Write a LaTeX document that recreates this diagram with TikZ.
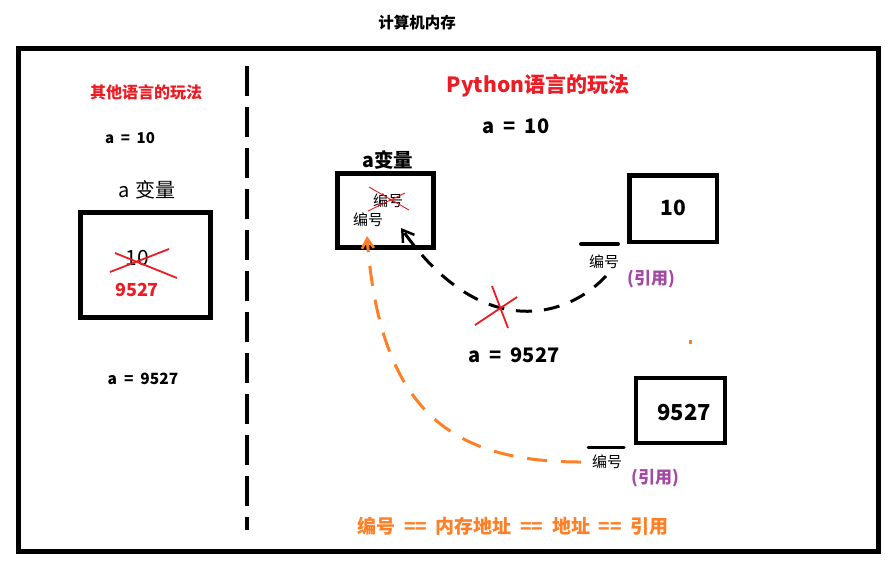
\documentclass[tikz,border=0pt]{standalone}
\usepackage{fontspec}
\setmainfont{Noto Sans CJK SC}
\usetikzlibrary{arrows.meta}
\definecolor{pred}{HTML}{ED1C24}
\definecolor{porange}{HTML}{FF7F27}
\definecolor{ppurple}{HTML}{A349A4}
\newcommand{\fsz}[1]{\fontsize{#1}{#1}\selectfont}
\newcommand{\wsp}{\hspace{0.45em}}
\tikzset{
  memframe/.style={draw=black, line width=5pt},
  membox/.style={draw=black, line width=5pt},
  lbl/.style={inner sep=0pt, anchor=center},
  cross/.style={draw=pred, line width=1.8pt},
  thincross/.style={draw=pred, line width=0.9pt},
  refbar/.style={draw=black, line width=4pt, line cap=round},
  ptrblack/.style={draw=black, line width=3pt, dash pattern=on 16pt off 12pt, -{Straight Barb[length=11pt, width=14pt, line width=2.5pt]}},
  ptrorange/.style={draw=porange, line width=3pt, dash pattern=on 20pt off 14pt, -{Straight Barb[length=10pt, width=12pt, line width=2.5pt]}}
}
\begin{document}
\begin{tikzpicture}[x=1pt, y=-1pt]
\useasboundingbox (0,0) rectangle (890,568);
\fill[white] (0,0) rectangle (890,568);

% title and frame
\node[lbl] (title) at (417,23) {\fsz{15.5}\bfseries 计算机内存};
\draw[memframe] (18,48) rectangle (878,551);
\coordinate (divtop) at (247,66);
\coordinate (divbot) at (247,530);
\draw[line width=4pt, dash pattern=on 30pt off 11pt] (divtop) -- (divbot);

% left side
\node[lbl, text=pred] (lhead) at (146,92) {\fsz{16}\bfseries 其他语言的玩法};
\node[lbl] (la10) at (130,138) {\fsz{15}\bfseries a\wsp{}=\wsp{}10};
\node[lbl] (lvar) at (147,190) {\fsz{20}a\hspace{0.25em}变量};
\draw[membox] (80,212) rectangle (210,317.5);
\node[lbl] (lten) at (137,258) {\fsz{21}10};
\draw[cross] (110,272) -- (169,249);
\draw[cross] (115,253) -- (177,278);
\node[lbl, text=pred] (lnew) at (137,290) {\fsz{18}\bfseries 9527};
\node[lbl] (la9527) at (143,379) {\fsz{15.5}\bfseries a\wsp{}=\wsp{}9527};

% right side
\node[lbl, text=pred] (rhead) at (538,86) {\fsz{21}\bfseries Python语言的玩法};
\node[lbl] (ra10) at (516,126) {\fsz{20}\bfseries a\wsp{}=\wsp{}10};
\node[lbl] (rvar) at (388,160) {\fsz{19.5}\bfseries a变量};
\draw[membox] (337.5,173.5) rectangle (433.5,247.5);
\node[lbl] (oldid) at (388,201) {\fsz{15}编号};
\draw[thincross] (369,187) -- (409,210);
\draw[thincross] (368,211) -- (405,193);
\node[lbl] (newid) at (368,220) {\fsz{15}编号};

% object 10
\draw[membox, line width=4.5pt] (629.5,175.5) rectangle (717,242);
\node[lbl] (v10) at (673,208) {\fsz{21}\bfseries 10};
\coordinate (bar1a) at (581,244);
\coordinate (bar1b) at (618,244);
\draw[refbar] (bar1a) -- (bar1b);
\node[lbl] (id1) at (604,262) {\fsz{15}编号};
\node[lbl, text=ppurple] (ref1) at (651,279) {\fsz{17}\bfseries (引用)};

\node[lbl] (ra9527) at (514,355) {\fsz{20}\bfseries a\wsp{}=\wsp{}9527};

% object 9527
\draw[membox, line width=4.5pt] (636,378) rectangle (725,443);
\node[lbl] (v9527) at (684,413) {\fsz{22}\bfseries 9527};
\coordinate (bar2a) at (588,447);
\coordinate (bar2b) at (624,447);
\draw[refbar, line width=3pt] (bar2a) -- (bar2b);
\node[lbl] (id2) at (607,462) {\fsz{15}编号};
\node[lbl, text=ppurple] (ref2) at (655,478) {\fsz{17}\bfseries (引用)};

% old pointer (black, crossed)
\coordinate (ptr1s) at (606,276);
\coordinate (ptr1e) at (401,228);
\draw[ptrblack] (ptr1s) .. controls (565,320) and (480,340) .. (ptr1e);
\draw[cross] (475,325) -- (517,297);
\draw[cross] (492,286) -- (508,328);

% new pointer (orange)
\coordinate (ptr2s) at (581,462);
\coordinate (ptr2e) at (367,236);
\draw[ptrorange] (ptr2s) .. controls (450,462) and (380,410) .. (ptr2e);
\fill[porange] (689,340) rectangle (692,344);

% bottom line
\node[lbl, text=porange] (eq) at (513,526) {\fsz{19}\bfseries 编号\wsp{}==\wsp{}内存地址\wsp{}==\wsp{}地址\wsp{}==\wsp{}引用};
\end{tikzpicture}
\end{document}
